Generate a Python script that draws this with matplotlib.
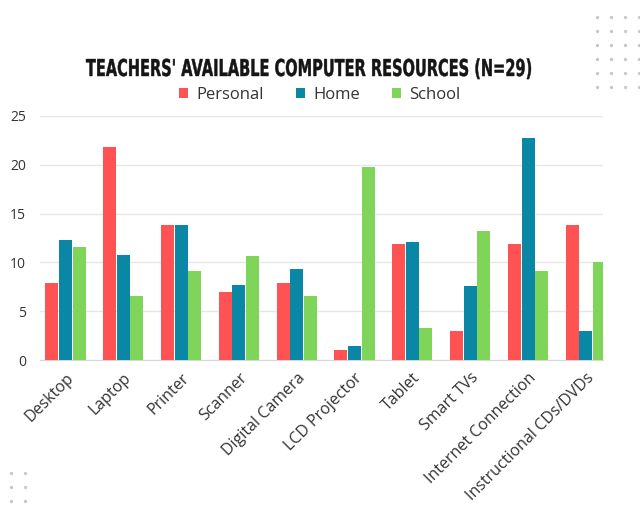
import numpy as np
import matplotlib.pyplot as plt
from matplotlib.textpath import TextPath
from matplotlib.patches import PathPatch
from matplotlib.font_manager import FontProperties
from matplotlib.transforms import Affine2D

# data
categories = ["Desktop", "Laptop", "Printer", "Scanner", "Digital Camera",
              "LCD Projector", "Tablet", "Smart TVs", "Internet Connection",
              "Instructional CDs/DVDs"]
personal = [7.9, 21.8, 13.8, 7.0, 7.9, 1.0, 11.9, 3.0, 11.9, 13.8]
home = [12.3, 10.8, 13.8, 7.7, 9.3, 1.5, 12.1, 7.6, 22.7, 3.0]
school = [11.6, 6.6, 9.1, 10.7, 6.6, 19.8, 3.3, 13.2, 9.1, 10.0]
series_names = ["Personal", "Home", "School"]
colors = ["#FF5252", "#0B87A6", "#7ED55A"]
title = "TEACHERS' AVAILABLE COMPUTER RESOURCES (N=29)"

plt.rcParams['font.family'] = ['Open Sans', 'DejaVu Sans']

fig = plt.figure(figsize=(6.4, 5.08), dpi=100)
ax = fig.add_axes([0.0625, 0.291, 0.88, 0.481])

x = np.arange(len(categories))
w = 0.225
for i, (vals, name, c) in enumerate(zip([personal, home, school], series_names, colors)):
    ax.bar(x + (i - 1) * (w + 0.01), vals, w, color=c, label=name, zorder=3)

ax.set_ylim(0, 25)
ax.set_xlim(-0.44, 9.3)
ax.set_yticks([0, 5, 10, 15, 20, 25])
ax.yaxis.grid(True, color="#e6e6e6", linewidth=1, zorder=0)
for s in ["top", "right", "left"]:
    ax.spines[s].set_visible(False)
ax.spines["bottom"].set_color("#d8d8d8")
ax.tick_params(axis="both", length=0, labelsize=10, colors="#333333")
ax.tick_params(axis="y", pad=10)
ax.tick_params(axis="x", pad=7)
ax.set_xticks(x)
ax.set_xticklabels(categories, rotation=45, ha="right", rotation_mode="anchor", fontsize=11.5)

leg = fig.legend(loc="center", bbox_to_anchor=(0.5, 0.813), ncol=3, frameon=False,
                 handlelength=0.55, handleheight=0.55, handletextpad=0.5, columnspacing=1.9,
                 fontsize=12)
for t in leg.get_texts():
    t.set_color("#333333")

# overlay in pixel coordinates for the condensed title and the decorative dots
over = fig.add_axes([0, 0, 1, 1], zorder=-1)
over.set_xlim(0, 640)
over.set_ylim(508, 0)
over.axis("off")

tp = TextPath((0, 0), title, size=10, prop=FontProperties(family="DejaVu Sans", weight="heavy"))
bb = tp.get_extents()
sx = 445 / bb.width
sy = 17 / 7.3
tr = Affine2D().translate(-bb.x0, 0).scale(sx, -sy).translate(86, 76)
over.add_patch(PathPatch(tr.transform_path(tp), color="#151515", lw=0.3))

dx, dy = np.meshgrid(np.arange(4) * 14 + 597, np.arange(6) * 14 + 17)
over.scatter(dx.ravel(), dy.ravel(), s=2, color="#c8c8c8")
bx, by = np.meshgrid(np.arange(2) * 14 + 11, np.arange(3) * 14 + 473)
over.scatter(bx.ravel(), by.ravel(), s=2, color="#c8c8c8")

fig.savefig("out.png", dpi=100)
